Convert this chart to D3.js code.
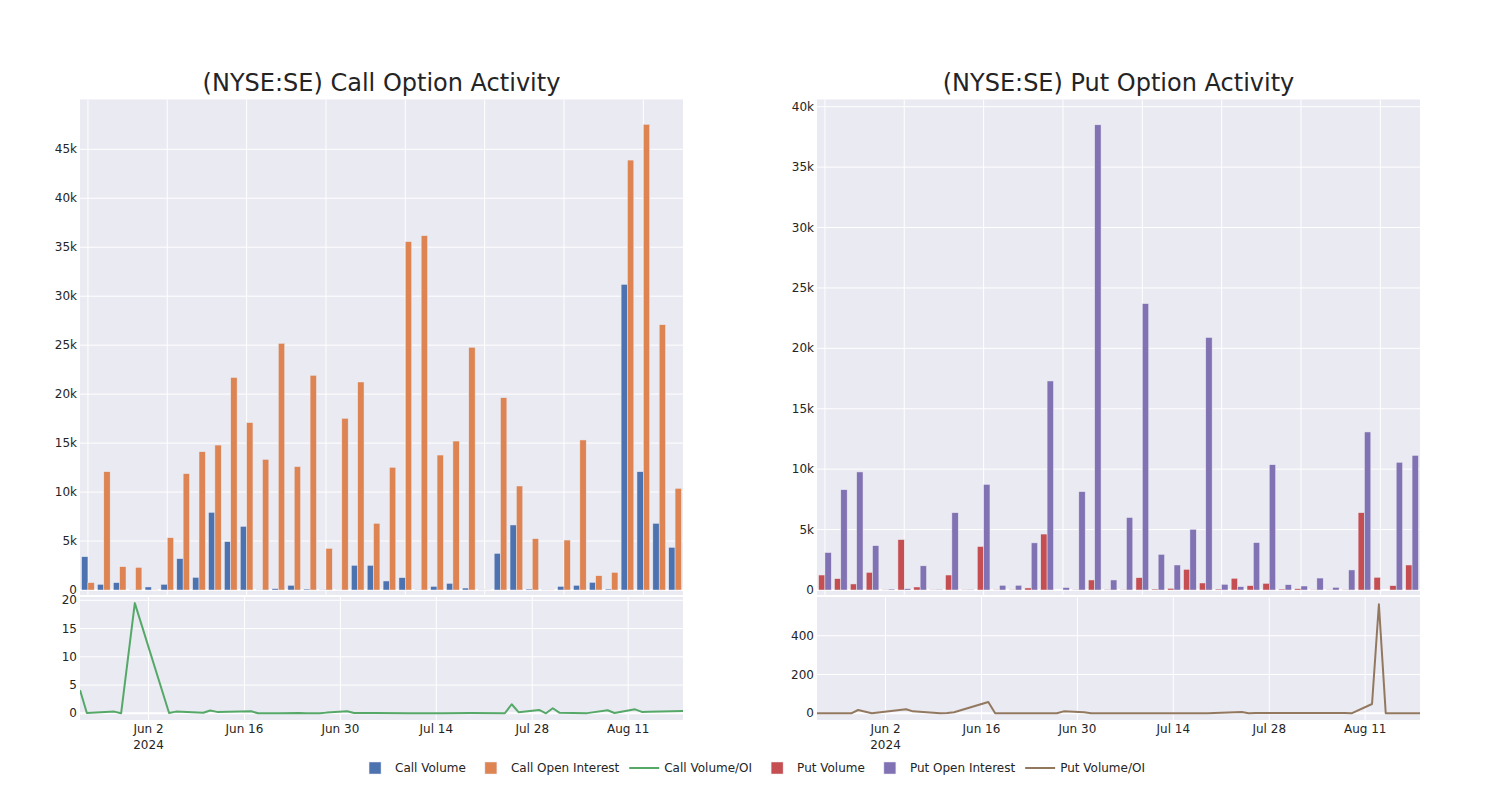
<!DOCTYPE html>
<html><head><meta charset="utf-8">
<script src="https://cdn.jsdelivr.net/npm/d3@7"></script>
<style>
body{margin:0;background:#fff}
svg{display:block}
text{font-family:"DejaVu Sans",sans-serif;fill:rgb(36,36,36)}
</style>
</head><body>
<svg id="chart" width="1500" height="800"></svg>
<script>
// ---------------- data ----------------
const dates = ["2024-05-23","2024-05-24","2024-05-28","2024-05-29","2024-05-31","2024-06-05","2024-06-06","2024-06-10","2024-06-11","2024-06-12",
  "2024-06-17","2024-06-18","2024-06-21","2024-06-24","2024-06-25","2024-06-26","2024-06-27","2024-06-28","2024-07-01","2024-07-02",
  "2024-07-05","2024-07-10","2024-07-15","2024-07-19","2024-07-24","2024-07-25","2024-07-26","2024-07-29","2024-07-30","2024-07-31",
  "2024-08-01","2024-08-05","2024-08-08","2024-08-09","2024-08-12","2024-08-13","2024-08-14","2024-08-19"];

const callVolume = [3400,580,750,30,310,580,3200,1290,7930,4940,6500,20,140,480,100,30,10,2520,2520,920,
  1260,20,370,680,200,20,3740,6640,100,20,370,480,780,100,31210,12080,6810,4360];
const callOpenInterest = [750,12080,2380,2310,20,5340,11880,14120,14800,21700,17090,13340,25190,12600,21920,4250,17530,21240,6810,12530,
  35570,36180,13780,15210,24780,15,19640,10620,5240,25,5100,15320,1460,1800,43900,47550,27090,10380];
const callVolOI = [4.1,0.05,0.3,0.0,19.5,0.05,0.3,0.1,0.5,0.25,0.35,0.0,0.01,0.04,0.01,0.01,0.0,0.12,0.35,0.05,
  0.04,0.0,0.03,0.05,0.01,1.6,0.2,0.6,0.0,0.9,0.08,0.03,0.53,0.06,0.7,0.25,0.26,0.4];

const putVolume = [1240,940,500,1460,20,4170,250,20,1240,20,3600,20,20,170,4630,0,20,830,50,20,
  1020,80,140,1710,580,80,970,360,550,80,110,20,20,20,6400,1050,360,2070];
const putOpenInterest = [3100,8300,9770,3670,80,110,2000,60,6400,50,8740,390,390,3900,17300,200,8140,38500,830,6000,
  23700,2950,2070,5020,20900,470,280,3920,10370,440,330,990,220,1660,13080,0,10570,11140];
const putVolOI = [0,0,0,17,0,21,10,0,2,5,58,0,0,0,0,0,0,10,5,0,
  0,0,0,0,7,0,2,2,2,2,2,1,1,0,48,562,0,0];

const callTicks = [0,5000,10000,15000,20000,25000,30000,35000,40000,45000];
const putTicks = [0,5000,10000,15000,20000,25000,30000,35000,40000];
const callRatioTicks = [0,5,10,15,20];
const putRatioTicks = [0,200,400];
const dateTickLabels = ["2024-06-02","2024-06-16","2024-06-30","2024-07-14","2024-07-28","2024-08-11"];
const legendLabels = ["Call Volume","Call Open Interest","Call Volume/OI","Put Volume","Put Open Interest","Put Volume/OI"];

// ---------------- styles ----------------
const COLORS = {
  callVol:"rgb(76,114,176)", callOI:"rgb(221,132,82)", callRatio:"rgb(85,168,104)",
  putVol:"rgb(196,78,82)", putOI:"rgb(129,114,179)", putRatio:"rgb(147,120,96)"
};
const BG = "rgb(234,234,242)";

const svg = d3.select("#chart");
const parse = d3.utcParse("%Y-%m-%d");
const kfmt = d => d === 0 ? "0" : (d/1000) + "k";

const panels = [
  {x0:80, x1:683, title:"(NYSE:SE) Call Option Activity", vol:callVolume, oi:callOpenInterest, ratio:callVolOI,
   cv:COLORS.callVol, co:COLORS.callOI, cr:COLORS.callRatio, ticks:callTicks, yRef:45000, yRefPx:149.3,
   rTicks:callRatioTicks, rRef:20, rRefPx:600.3, id:"c"},
  {x0:817, x1:1420, title:"(NYSE:SE) Put Option Activity", vol:putVolume, oi:putOpenInterest, ratio:putVolOI,
   cv:COLORS.putVol, co:COLORS.putOI, cr:COLORS.putRatio, ticks:putTicks, yRef:40000, yRefPx:106.7,
   rTicks:putRatioTicks, rRef:400, rRefPx:635.7, id:"p"}
];

const topY0 = 99.5, topY1 = 595, zeroTop = 590;
const botY0 = 597, botY1 = 720, zeroBot = 713.3;

panels.forEach(p => {
  const g = svg.append("g");
  // ---- top bar plot ----
  g.append("rect").attr("x",p.x0).attr("y",topY0).attr("width",p.x1-p.x0).attr("height",topY1-topY0).attr("fill",BG);
  const xb = d3.scaleBand().domain(dates).range([p.x0,p.x1]).paddingInner(0.2).paddingOuter(0.1);
  const xs = d3.scaleBand().domain(["vol","oi"]).range([0, xb.bandwidth()]);
  const y = d3.scaleLinear().domain([0,p.yRef]).range([zeroTop,p.yRefPx]);
  const center = d => xb(d) + xb.bandwidth()/2;
  g.selectAll(null).data(p.ticks).join("line")
    .attr("x1",p.x0).attr("x2",p.x1).attr("y1",d=>y(d)).attr("y2",d=>y(d))
    .attr("stroke","#fff").attr("stroke-width",d=>d===0?2:1);
  g.selectAll(null).data(dates.filter((d,i)=>i%5===0)).join("line")
    .attr("x1",center).attr("x2",center).attr("y1",topY0).attr("y2",topY1)
    .attr("stroke","#fff").attr("stroke-width",1);
  g.selectAll(null).data(p.ticks).join("text")
    .attr("x",p.x0-3).attr("y",d=>y(d)).attr("text-anchor","end").attr("dominant-baseline","central")
    .attr("font-size",12).text(kfmt);
  const series = [{key:"vol",vals:p.vol,color:p.cv},{key:"oi",vals:p.oi,color:p.co}];
  series.forEach(s => {
    g.selectAll(null).data(dates).join("rect")
      .attr("x",(d)=>xb(d)+xs(s.key))
      .attr("width",xs.bandwidth())
      .attr("y",(d,i)=>y(s.vals[i]))
      .attr("height",(d,i)=>zeroTop-y(s.vals[i]))
      .attr("fill",s.color).attr("stroke",BG).attr("stroke-width",0.5);
  });
  g.append("text").attr("x",(p.x0+p.x1)/2).attr("y",91).attr("text-anchor","middle")
    .attr("font-size",24).text(p.title);

  // ---- bottom line plot ----
  g.append("rect").attr("x",p.x0).attr("y",botY0).attr("width",p.x1-p.x0).attr("height",botY1-botY0).attr("fill",BG);
  const xt = d3.scaleUtc().domain([parse(dates[0]), parse(dates[dates.length-1])]).range([p.x0,p.x1]);
  const yr = d3.scaleLinear().domain([0,p.rRef]).range([zeroBot,p.rRefPx]);
  const tickDates = dateTickLabels.map(parse);
  g.selectAll(null).data(tickDates).join("line")
    .attr("x1",d=>xt(d)).attr("x2",d=>xt(d)).attr("y1",botY0).attr("y2",botY1)
    .attr("stroke","#fff").attr("stroke-width",1);
  g.selectAll(null).data(p.rTicks).join("line")
    .attr("x1",p.x0).attr("x2",p.x1).attr("y1",d=>yr(d)).attr("y2",d=>yr(d))
    .attr("stroke","#fff").attr("stroke-width",d=>d===0?2:1);
  g.selectAll(null).data(p.rTicks).join("text")
    .attr("x",p.x0-3).attr("y",d=>yr(d)).attr("text-anchor","end").attr("dominant-baseline","central")
    .attr("font-size",12).text(d=>d);
  const fmt = d3.utcFormat("%b %-d");
  g.selectAll(null).data(tickDates).join("text")
    .attr("x",d=>xt(d)).attr("y",733).attr("text-anchor","middle").attr("font-size",12).text(fmt);
  g.append("text").attr("x",xt(tickDates[0])).attr("y",749).attr("text-anchor","middle").attr("font-size",12)
    .text(d3.utcFormat("%Y")(tickDates[0]));
  const clipId = "clip-"+p.id;
  svg.append("clipPath").attr("id",clipId).append("rect")
    .attr("x",p.x0).attr("y",botY0).attr("width",p.x1-p.x0).attr("height",botY1-botY0);
  const line = d3.line().x((d,i)=>xt(parse(dates[i]))).y(d=>yr(d));
  g.append("path").datum(p.ratio).attr("d",line).attr("fill","none")
    .attr("stroke",p.cr).attr("stroke-width",2).attr("stroke-linejoin","round")
    .attr("clip-path",`url(#${clipId})`);
});

// ---------------- legend ----------------
const legendColors = [COLORS.callVol,COLORS.callOI,COLORS.callRatio,COLORS.putVol,COLORS.putOI,COLORS.putRatio];
const legendType = ["bar","bar","line","bar","bar","line"];
const lg = svg.append("g");
const items = legendLabels.map((lab,i) => {
  const it = lg.append("g");
  const t = it.append("text").attr("x",40).attr("y",768).attr("dominant-baseline","central")
    .attr("font-size",12).text(lab);
  if (legendType[i]==="bar") {
    it.append("rect").attr("x",14).attr("y",762).attr("width",12).attr("height",12)
      .attr("fill",legendColors[i]).attr("stroke",BG).attr("stroke-width",0.5);
  } else {
    it.append("line").attr("x1",5).attr("x2",35).attr("y1",768).attr("y2",768)
      .attr("stroke",legendColors[i]).attr("stroke-width",2);
  }
  return {g:it, w:40 + t.node().getComputedTextLength()};
});
const gap = 5;
const total = d3.sum(items, d=>d.w) + gap*(items.length-1);
let cx = 750 - total/2;
items.forEach(it => { it.g.attr("transform",`translate(${cx},0)`); cx += it.w + gap; });
</script>
</body></html>
